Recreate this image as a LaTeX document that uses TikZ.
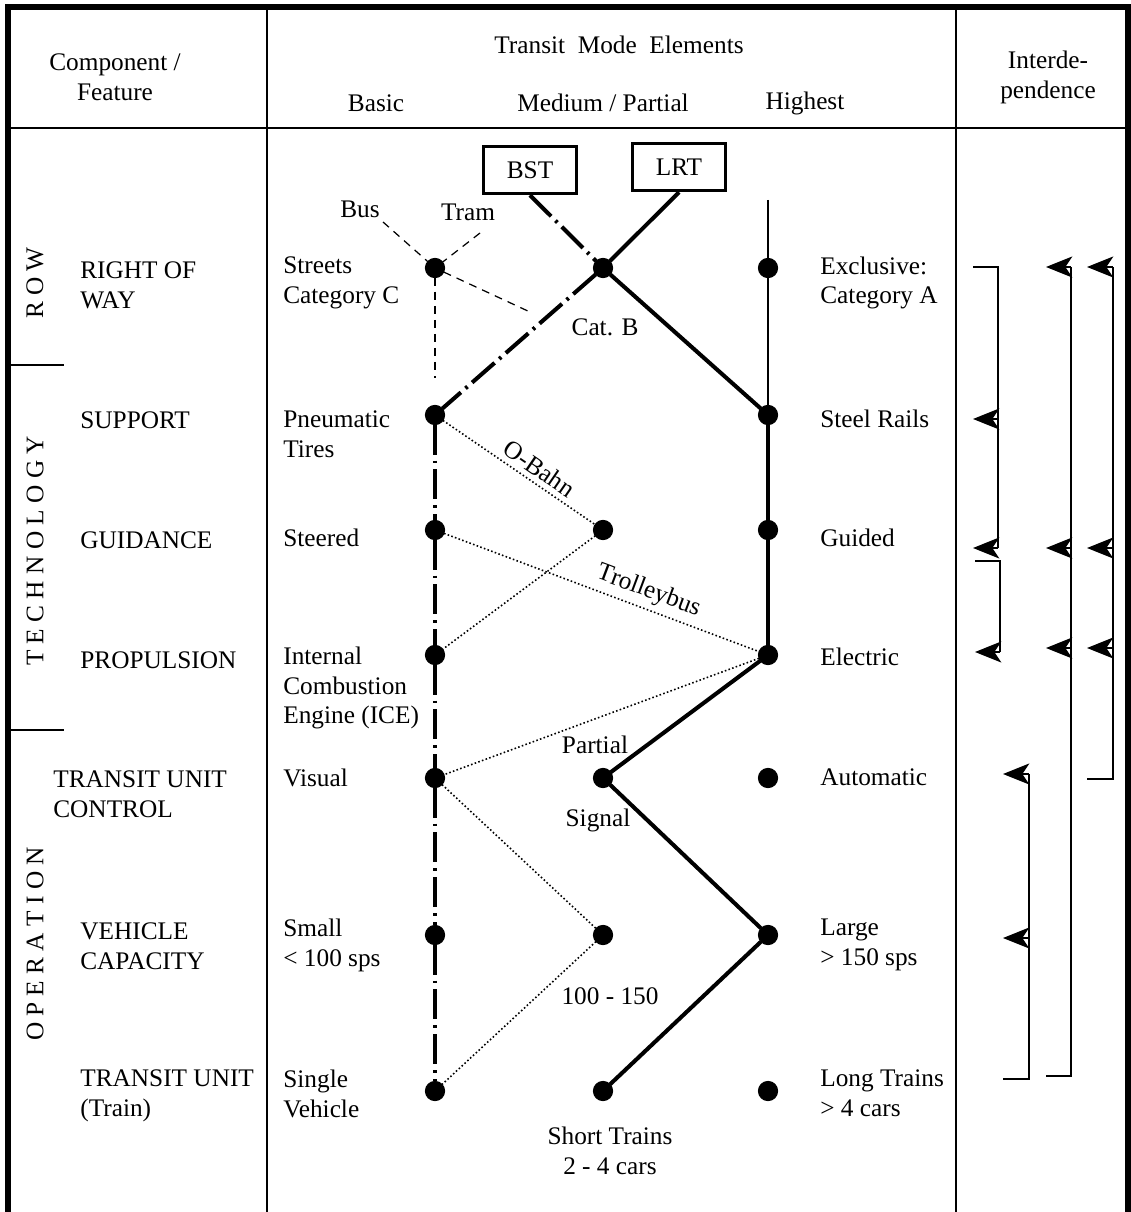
\documentclass[tikz,border=0pt]{standalone}
\usepackage{fontspec}
\setmainfont{Liberation Serif}
\usepackage{tikz}
\usepackage{tkz-graph}
\usetikzlibrary{calc,arrows,arrows.meta}

\begin{document}
\begin{tikzpicture}[x=0.02cm,y=-0.02cm,
    txt/.style={font=\fontsize{14.4}{17}\selectfont,inner sep=0pt,align=left},
    ctxt/.style={txt,align=center},
    tableline/.style={line width=0.8pt},
    outerframe/.style={line width=3.4pt},
    modebox/.style={ctxt,draw,line width=1.7pt,minimum width=53pt,minimum height=27pt},
    busline/.style={line width=0.7pt,dash pattern=on 4.5pt off 3.5pt},
    deprule/.style={line width=0.7pt},
    deparrow/.style={line width=0.7pt,-{Stealth[length=15pt,width=12pt,inset=4pt]}}]
            \useasboundingbox (0,0) rectangle (1130,1212);
            % table
            \draw[outerframe] (8,1212) -- (8,7) -- (1128,7) -- (1128,1212);
            \draw[tableline] (8,128) -- (1128,128);
            \draw[tableline] (267,7) -- (267,1212);
            \draw[tableline] (956,7) -- (956,1212);
            \draw[tableline] (8,365) -- (64,365);
            \draw[tableline] (8,730) -- (64,730);

            \node[ctxt] (comp) at (115,77) {Component /\\Feature};
            \node[ctxt] (tme) at (619,45) {Transit\ \ Mode\ \ Elements};
            \node[ctxt] (basic) at (376,103) {Basic};
            \node[ctxt] (medium) at (603,103) {Medium / Partial};
            \node[ctxt] (highest) at (805,103) {Highest};
            \node[ctxt] (interdep) at (1048,77) {Interde-\\pendence};

            \node[ctxt,rotate=90] (secrow) at (35,283) {R O W};
            \node[ctxt,rotate=90] (sectech) at (35,551) {T E C H N O L O G Y};
            \node[ctxt,rotate=90] (secop) at (35,944) {O P E R A T I O N};

            \node[txt,anchor=west] (labrow) at (80,285) {RIGHT OF\\WAY};
            \node[txt,anchor=west] (labsup) at (80,420) {SUPPORT};
            \node[txt,anchor=west] (labgui) at (80,540) {GUIDANCE};
            \node[txt,anchor=west] (labpro) at (80,660) {PROPULSION};
            \node[txt,anchor=west] (labctl) at (53,794) {TRANSIT UNIT\\CONTROL};
            \node[txt,anchor=west] (labcap) at (80,946) {VEHICLE\\CAPACITY};
            \node[txt,anchor=west] (labunit) at (80,1096) {TRANSIT UNIT\\(Train)};

            \node[txt,anchor=west] (txrb) at (283,283) {Streets\\Category C};
            \node[txt,anchor=west] (txsb) at (283,434) {Pneumatic\\Tires};
            \node[txt,anchor=west] (txgb) at (283,538) {Steered};
            \node[txt,anchor=west] (txpb) at (283,688) {Internal\\Combustion\\Engine (ICE)};
            \node[txt,anchor=west] (txcb) at (283,778) {Visual};
            \node[txt,anchor=west] (txvb) at (283,945) {Small\\< 100 sps};
            \node[txt,anchor=west] (txub) at (283,1094) {Single\\Vehicle};

            \node[txt,anchor=west] (txrh) at (820,283) {Exclusive:\\Category A};
            \node[txt,anchor=west] (txsh) at (820,419) {Steel Rails};
            \node[txt,anchor=west] (txgh) at (820,538) {Guided};
            \node[txt,anchor=west] (txph) at (820,657) {Electric};
            \node[txt,anchor=west] (txch) at (820,777) {Automatic};
            \node[txt,anchor=west] (txvh) at (820,945) {Large\\> 150 sps};
            \node[txt,anchor=west] (txuh) at (820,1093) {Long Trains\\> 4 cars};

            \node[ctxt] (txbus) at (360,209) {Bus};
            \node[ctxt] (txtram) at (468,212) {Tram};
            \node[ctxt] (txcatb) at (605,327) {Cat. B};
            \node[ctxt] (txpart) at (595,745) {Partial};
            \node[ctxt] (txsig) at (598,820) {Signal};
            \node[ctxt] (txmid) at (610,996) {100 - 150};
            \node[ctxt] (txshort) at (610,1151) {Short Trains\\2 - 4 cars};

            \node[modebox] (bst) at (530,170) {BST};
            \node[modebox] (lrt) at (679,167) {LRT};

            % elements
            \GraphInit[vstyle=Classic];
            \SetVertexNormal[MinSize=11pt,FillColor=black,LineColor=black]
            \tikzset{LabelStyle/.style={draw=none,fill=none,inner sep=0pt}};
            \Vertex[NoLabel,x=435,y=268]{rb};
            \Vertex[NoLabel,x=603,y=268]{rm};
            \Vertex[NoLabel,x=768,y=268]{rh};
            \Vertex[NoLabel,x=435,y=415]{sb};
            \Vertex[NoLabel,x=768,y=415]{sh};
            \Vertex[NoLabel,x=435,y=530]{gb};
            \Vertex[NoLabel,x=603,y=530]{gm};
            \Vertex[NoLabel,x=768,y=530]{gh};
            \Vertex[NoLabel,x=435,y=655]{pb};
            \Vertex[NoLabel,x=768,y=655]{ph};
            \Vertex[NoLabel,x=435,y=778]{cb};
            \Vertex[NoLabel,x=603,y=778]{cm};
            \Vertex[NoLabel,x=768,y=778]{ch};
            \Vertex[NoLabel,x=435,y=935]{vb};
            \Vertex[NoLabel,x=603,y=935]{vm};
            \Vertex[NoLabel,x=768,y=935]{vh};
            \Vertex[NoLabel,x=435,y=1091]{ub};
            \Vertex[NoLabel,x=603,y=1091]{um};
            \Vertex[NoLabel,x=768,y=1091]{uh};

            \coordinate (htop) at (768,200);
            \coordinate (busend) at (383,222);
            \coordinate (tramend) at (480,233);
            \coordinate (catbend) at (530,312);
            \coordinate (rbdown) at (435,378);

            % bus and tram
            \draw[busline] (busend) -- (rb);
            \draw[busline] (tramend) -- (rb);
            \draw[busline] (rb) -- (catbend);
            \draw[busline] (rb) -- (rbdown);

            % exclusive way
            \tikzset{EdgeStyle/.style={line width=1pt}};
            \Edge(htop)(rh);
            \Edge(rh)(sh);

            % LRT
            \tikzset{EdgeStyle/.style={line width=2.3pt}};
            \Edge(lrt.south)(rm);
            \Edge(rm)(sh);
            \Edge(sh)(gh);
            \Edge(gh)(ph);
            \Edge(ph)(cm);
            \Edge(cm)(vh);
            \Edge(vh)(um);

            % BST
            \tikzset{EdgeStyle/.style={line width=2.3pt,dash pattern=on 17pt off 3.5pt on 1.5pt off 3.5pt}};
            \Edge(bst.south)(rm);
            \Edge(rm)(sb);
            \Edge(sb)(gb);
            \Edge(gb)(pb);
            \Edge(pb)(cb);
            \Edge(cb)(vb);
            \Edge(vb)(ub);

            % other combinations
            \tikzset{EdgeStyle/.style={line width=0.9pt,dash pattern=on 0.9pt off 1.3pt}};
            \draw[EdgeStyle] (sb) -- node[txt,sloped,above=3pt,pos=0.58]{O-Bahn} (gm);
            \draw[EdgeStyle] (gb) -- node[txt,sloped,above=3pt,pos=0.63]{Trolleybus} (ph);
            \Edge(gm)(pb);
            \Edge(ph)(cb);
            \Edge(cb)(vm);
            \Edge(vm)(ub);

            % interdependence
            \draw[deprule] (973,267) -- (998,267) -- (998,548);
            \draw[deparrow] (998,548) -- (973,548);
            \draw[deparrow] (998,419) -- (973,419);
            \draw[deprule] (975,561) -- (1000,561) -- (1000,652);
            \draw[deparrow] (1000,652) -- (975,652);
            \draw[deprule] (1046,1076) -- (1071,1076) -- (1071,267);
            \draw[deparrow] (1071,267) -- (1046,267);
            \draw[deparrow] (1071,548) -- (1046,548);
            \draw[deparrow] (1071,648) -- (1046,648);
            \draw[deprule] (1087,779) -- (1113,779) -- (1113,267);
            \draw[deparrow] (1113,267) -- (1087,267);
            \draw[deparrow] (1113,548) -- (1087,548);
            \draw[deparrow] (1113,648) -- (1087,648);
            \draw[deprule] (1003,1079) -- (1029,1079) -- (1029,774);
            \draw[deparrow] (1029,774) -- (1003,774);
            \draw[deparrow] (1029,938) -- (1003,938);
\end{tikzpicture}
\end{document}
